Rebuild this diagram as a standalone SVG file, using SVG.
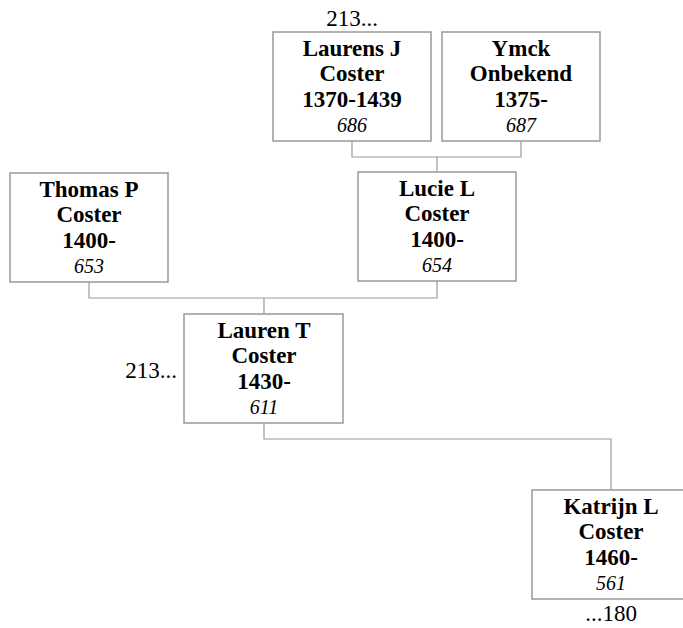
<svg xmlns="http://www.w3.org/2000/svg" width="683" height="628" viewBox="0 0 683 628">
<style>
.box{fill:#fff;stroke:#999;stroke-width:1.5}
.con{fill:none;stroke:#999;stroke-width:1.2}
.b{font-weight:bold;font-size:23px;text-anchor:middle;fill:#000}
.i{font-style:italic;font-size:20px;text-anchor:middle;fill:#000}
.r{font-size:23px;fill:#000}
</style>
<rect width="683" height="628" fill="#fff"/>
<g id="connectors">
<path class="con" d="M352 141V157H521V141M437 157V172"/>
<path class="con" d="M89 282V298H437V281M264 298V314"/>
<path class="con" d="M264 423V439H611V490"/>
</g>
<g font-family="Liberation Serif, DejaVu Serif, serif">
<g id="laurens">
<rect class="box" x="273" y="32" width="158" height="109"/>
<text class="b" x="352" y="55.5">Laurens J</text>
<text class="b" x="352" y="81">Coster</text>
<text class="b" x="352" y="106.5">1370-1439</text>
<text class="i" x="352" y="132">686</text>
</g>
<g id="ymck">
<rect class="box" x="442" y="32" width="158" height="109"/>
<text class="b" x="521" y="55.5">Ymck</text>
<text class="b" x="521" y="81">Onbekend</text>
<text class="b" x="521" y="106.5">1375-</text>
<text class="i" x="521" y="132">687</text>
</g>
<g id="lucie">
<rect class="box" x="358" y="172" width="158" height="109"/>
<text class="b" x="437" y="195.5">Lucie L</text>
<text class="b" x="437" y="221">Coster</text>
<text class="b" x="437" y="246.5">1400-</text>
<text class="i" x="437" y="272">654</text>
</g>
<g id="thomas">
<rect class="box" x="10" y="173" width="158" height="109"/>
<text class="b" x="89" y="196.5">Thomas P</text>
<text class="b" x="89" y="222">Coster</text>
<text class="b" x="89" y="247.5">1400-</text>
<text class="i" x="89" y="273">653</text>
</g>
<g id="lauren">
<rect class="box" x="184" y="314" width="159" height="109"/>
<text class="b" x="264" y="337.5">Lauren T</text>
<text class="b" x="264" y="363">Coster</text>
<text class="b" x="264" y="388.5">1430-</text>
<text class="i" x="264" y="414">611</text>
</g>
<g id="katrijn">
<rect class="box" x="532" y="490" width="158" height="109"/>
<text class="b" x="611" y="513.5">Katrijn L</text>
<text class="b" x="611" y="539">Coster</text>
<text class="b" x="611" y="564.5">1460-</text>
<text class="i" x="611" y="590">561</text>
</g>
<g id="labels">
<text class="r" x="352" y="26" text-anchor="middle">213...</text>
<text class="r" x="177" y="378" text-anchor="end">213...</text>
<text class="r" x="611" y="621" text-anchor="middle">...180</text>
</g>
</g>
</svg>
